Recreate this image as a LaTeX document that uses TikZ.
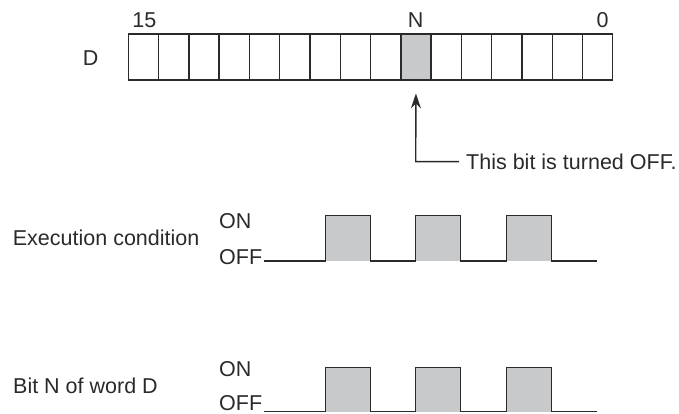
\documentclass[tikz,border=0pt]{standalone}
\usepackage{fontspec}
\setmainfont{Liberation Sans}
\usetikzlibrary{arrows.meta,calc}
\definecolor{ink}{HTML}{2A2A2A}
\definecolor{pulsegray}{HTML}{C8C9CA}
\tikzset{
  lbl/.style={inner sep=0pt, text=ink, font=\fontsize{21.5}{25}\selectfont},
  cell/.style={draw=ink, line width=1.4pt, minimum width=30.28pt, minimum height=46pt, inner sep=0pt},
  wave/.style={draw=ink, line width=1.4pt, line join=miter},
  conn/.style={draw=ink, line width=1.4pt},
}
\begin{document}
\begin{tikzpicture}[x=1pt,y=-1pt]
\useasboundingbox (0,0) rectangle (679,414);
% register
\foreach \i in {0,...,15}{
  \pgfmathtruncatemacro{\b}{15-\i}
  \ifnum\b=6
    \node[cell, fill=pulsegray] (b\b) at ({128.3+30.28*\i+15.14},57) {};
  \else
    \node[cell] (b\b) at ({128.3+30.28*\i+15.14},57) {};
  \fi
}
\node[lbl] (l15) at (144.3,20.5) {15};
\node[lbl] (lN) at (415.7,20.5) {N};
\node[lbl] (l0) at (602.7,20.5) {0};
\node[lbl] (lD) at (90.7,58) {D};
% pointer
\node[lbl, anchor=west] (txt) at (466,161.7) {This bit is turned OFF.};
\coordinate (corner) at (415.7,161.7);
\draw[conn, -{Stealth[length=15pt,width=10pt]}] ([xshift=-7pt]txt.west) -- (corner) -- ($(b6.south)+(0,12.7)$);
% waveform 1
\node[lbl, anchor=west] (ec) at (12.7,238.3) {Execution condition};
\node[lbl, anchor=west] (on1) at (219,221) {ON};
\node[lbl, anchor=west] (off1) at (219,257) {OFF};
\foreach \r in {325.7,415.7,506.7}{
  \fill[pulsegray] (\r,215.7) rectangle (\r+45,261);
}
\draw[wave] (264,261) -- (325.7,261) -- (325.7,215.7) -- (370.7,215.7) -- (370.7,261)
  -- (415.7,261) -- (415.7,215.7) -- (460.7,215.7) -- (460.7,261)
  -- (506.7,261) -- (506.7,215.7) -- (551.7,215.7) -- (551.7,261) -- (596.7,261);
% waveform 2
\node[lbl, anchor=west] (bn) at (13,386) {Bit N of word D};
\node[lbl, anchor=west] (on2) at (219,369) {ON};
\node[lbl, anchor=west] (off2) at (219,403.5) {OFF};
\foreach \r in {325.7,415.7,506.7}{
  \fill[pulsegray] (\r,367.3) rectangle (\r+45,411.7);
}
\draw[wave] (264,411.7) -- (325.7,411.7) -- (325.7,367.3) -- (370.7,367.3) -- (370.7,411.7)
  -- (415.7,411.7) -- (415.7,367.3) -- (460.7,367.3) -- (460.7,411.7)
  -- (506.7,411.7) -- (506.7,367.3) -- (551.7,367.3) -- (551.7,411.7) -- (596.7,411.7);
\end{tikzpicture}
\end{document}
